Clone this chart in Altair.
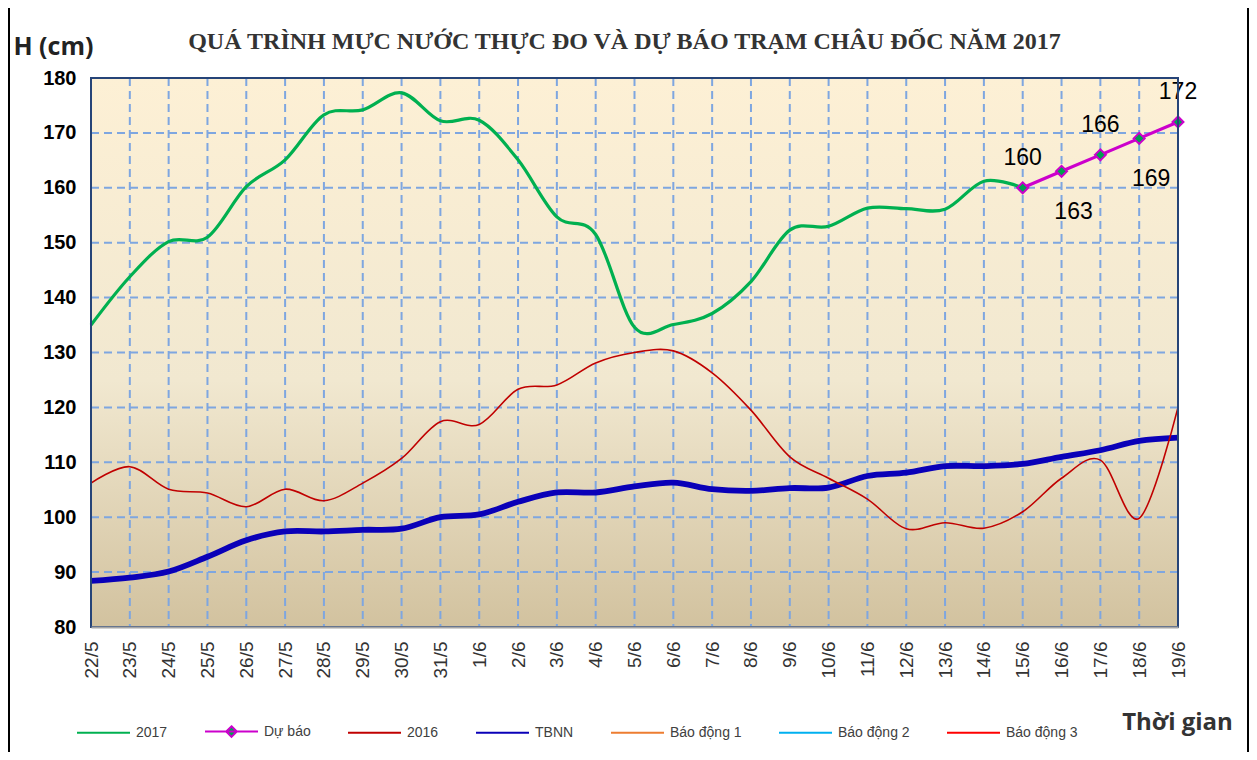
import altair as alt
import pandas as pd

# ---------------- data ----------------
dates = ["22/5", "23/5", "24/5", "25/5", "26/5", "27/5", "28/5", "29/5", "30/5", "31/5",
         "1/6", "2/6", "3/6", "4/6", "5/6", "6/6", "7/6", "8/6", "9/6", "10/6",
         "11/6", "12/6", "13/6", "14/6", "15/6", "16/6", "17/6", "18/6", "19/6"]

h2017 = [135.0, 143.8, 150.2, 151.0, 160.2, 165.1, 173.3, 174.2, 177.3, 172.2,
         172.3, 165.1, 154.7, 151.5, 134.6, 135.1, 137.1, 142.9, 152.3, 153.0,
         156.3, 156.2, 156.1, 161.2, 160.0]

forecast_dates = ["15/6", "16/6", "17/6", "18/6", "19/6"]
forecast = [160, 163, 166, 169, 172]

h2016 = [106.2, 109.2, 105.1, 104.4, 101.9, 105.1, 103.0, 106.2, 110.7, 117.4,
         116.9, 123.3, 124.1, 128.1, 130.0, 130.3, 126.3, 119.5, 111.0, 107.1,
         103.3, 97.9, 99.0, 98.0, 101.0, 107.1, 110.4, 99.8, 120.0]

tbnn = [88.4, 89.0, 90.1, 92.8, 95.8, 97.4, 97.4, 97.7, 97.9, 100.0,
        100.5, 102.8, 104.5, 104.5, 105.6, 106.3, 105.1, 104.8, 105.3, 105.4,
        107.5, 108.1, 109.3, 109.3, 109.7, 111.0, 112.2, 113.9, 114.5]

series_names = ["2017", "Dự báo", "2016", "TBNN", "Báo động 1", "Báo động 2", "Báo động 3"]
series_colors = ["#00B050", "#CC00CC", "#C00000", "#0A00B8", "#ED7D31", "#00B0F0", "#FF0000"]
series_widths = [3.2, 3.2, 1.6, 5.8, 2, 2, 2]

y_ticks = [80, 90, 100, 110, 120, 130, 140, 150, 160, 170, 180]

title_text = "QUÁ TRÌNH MỰC NƯỚC THỰC ĐO VÀ DỰ BÁO TRẠM CHÂU ĐỐC  NĂM 2017"
y_title = "H (cm)"
x_title = "Thời gian"

# ---------------- tables ----------------
df = pd.concat([
    pd.DataFrame({"date": dates[:len(h2017)], "value": h2017, "series": "2017"}),
    pd.DataFrame({"date": forecast_dates, "value": forecast, "series": "Dự báo"}),
    pd.DataFrame({"date": dates, "value": h2016, "series": "2016"}),
    pd.DataFrame({"date": dates, "value": tbnn, "series": "TBNN"}),
], ignore_index=True)

df_fc = pd.DataFrame({"date": forecast_dates, "value": forecast,
                      "above": [i % 2 == 0 for i in range(len(forecast))]})

W, H = 1087, 549
GRID = "#7EA6E0"
FRAME = "#264478"

xscale = alt.Scale(type="point", padding=0, domain=dates)
yscale = alt.Scale(domain=[80, 180], nice=False, zero=False)
cscale = alt.Scale(domain=series_names, range=series_colors)

x_axis = alt.Axis(title=x_title, labelAngle=270, labelFont="Liberation Sans", labelFontSize=19,
                  labelColor="#333333", labelPadding=14, ticks=False, grid=False,
                  domainColor="#A6A6A6", domainWidth=2, zindex=1,
                  titleFont="Open Sans", titleFontSize=24, titleFontWeight="bold",
                  titleColor="#333333", titleX=1086, titleY=95, titleAlign="center",
                  titleBaseline="middle", titleAngle=0)
y_axis = alt.Axis(title=y_title, values=y_ticks, labelFont="Liberation Sans", labelFontSize=20,
                  labelFontWeight="bold", labelColor="#000000", labelPadding=15, ticks=False,
                  domain=False, grid=False, titleAngle=0, titleAlign="left",
                  titleBaseline="middle", titleX=-78, titleY=-32, titleFont="Open Sans",
                  titleFontSize=25, titleFontWeight="bold", titleColor="#222222")

legend = alt.Legend(title=None, orient="none", legendX=-15, legendY=626, direction="horizontal",
                    columns=7, symbolSize=2809, symbolStrokeWidth=2, labelFont="Liberation Sans",
                    labelFontSize=14, labelColor="#404040", labelOffset=5, columnPadding=33,
                    padding=0, symbolFillColor="#00A651")

X = alt.X("date:O", sort=dates, scale=xscale, axis=x_axis)
Y = alt.Y("value:Q", scale=yscale, axis=y_axis)

one = pd.DataFrame({"a": [0]})

bg = alt.Chart(one).mark_rect(
    fill=alt.Gradient(gradient="linear", x1=0, y1=0, x2=0, y2=1,
                      stops=[alt.GradientStop(color="#FDF0D5", offset=0),
                             alt.GradientStop(color="#F1E8D0", offset=0.55),
                             alt.GradientStop(color="#D2C29F", offset=1)])
).encode(x=alt.value(0), x2=alt.value(W), y=alt.value(0), y2=alt.value(H))

xgrid = alt.Chart(pd.DataFrame({"date": dates})).mark_rule(
    color=GRID, strokeWidth=2, strokeDash=[8, 5]
).encode(x=X)

ygrid = alt.Chart(pd.DataFrame({"value": y_ticks})).mark_rule(
    color=GRID, strokeWidth=2, strokeDash=[8, 5]
).encode(y=Y)


def series_line(name, smooth=True):
    i = series_names.index(name)
    props = dict(color=series_colors[i], strokeWidth=series_widths[i])
    if smooth:
        props.update(interpolate="cardinal", tension=0)
    return (alt.Chart(df)
            .transform_filter(alt.datum.series == name)
            .mark_line(**props)
            .encode(x=X, y=Y))


l_tbnn = series_line("TBNN")
l_2016 = series_line("2016")
l_2017 = series_line("2017")
l_fc = series_line("Dự báo", smooth=False)

pts = alt.Chart(df_fc).mark_point(shape="diamond", filled=True, fill="#00A050",
                                  stroke="#CC00CC", strokeWidth=2, size=120, opacity=1).encode(x=X, y=Y)

lab_up = alt.Chart(df_fc).transform_filter(alt.datum.above).mark_text(
    font="Liberation Sans", fontSize=23, color="#000000", dy=-30, align="center", baseline="middle"
).encode(x=X, y=Y, text="value:Q")
lab_dn = alt.Chart(df_fc).transform_filter(~alt.datum.above).mark_text(
    font="Liberation Sans", fontSize=23, color="#000000", dy=41, dx=12, align="center", baseline="middle"
).encode(x=X, y=Y, text="value:Q")

line_path = "M-1,0L1,0"
diamond_path = "M-1,0L1,0M0,-0.2L0.2,0L0,0.2L-0.2,0Z"
shape_range = [diamond_path if s == "Dự báo" else line_path for s in series_names]

leg = alt.Chart(pd.DataFrame({"series": series_names})).transform_filter("false").mark_point(
    filled=False, fill="#00A651", strokeWidth=2, opacity=1
).encode(color=alt.Color("series:N", scale=cscale, legend=legend),
         shape=alt.Shape("series:N", scale=alt.Scale(domain=series_names, range=shape_range), legend=legend))

border = alt.Chart(one).mark_rect(fillOpacity=0, stroke=FRAME, strokeWidth=2).encode(
    x=alt.value(0), x2=alt.value(W), y=alt.value(0), y2=alt.value(H))

outer = alt.Chart(one).mark_rect(fillOpacity=0, stroke="#000000", strokeWidth=2).encode(
    x=alt.value(-82), x2=alt.value(1157), y=alt.value(-100), y2=alt.value(720))

title = alt.Chart(pd.DataFrame({"t": [title_text]})).mark_text(
    font="Liberation Serif", fontSize=24, fontWeight="bold", color="#333333",
    align="center", baseline="alphabetic"
).encode(x=alt.value(W / 2 - 10), y=alt.value(-29), text="t:N")

chart = alt.layer(bg, xgrid, ygrid, l_tbnn, l_2016, l_2017, l_fc, pts, lab_up, lab_dn, leg,
                  border, outer, title).properties(
    width=W, height=H,
    autosize=alt.AutoSizeParams(type="none"),
    padding={"left": 83, "top": 70, "right": 71, "bottom": 125},
    background="white",
).configure_view(stroke=None)

chart.save("out.html", embed_options={"renderer": "svg", "actions": False})
